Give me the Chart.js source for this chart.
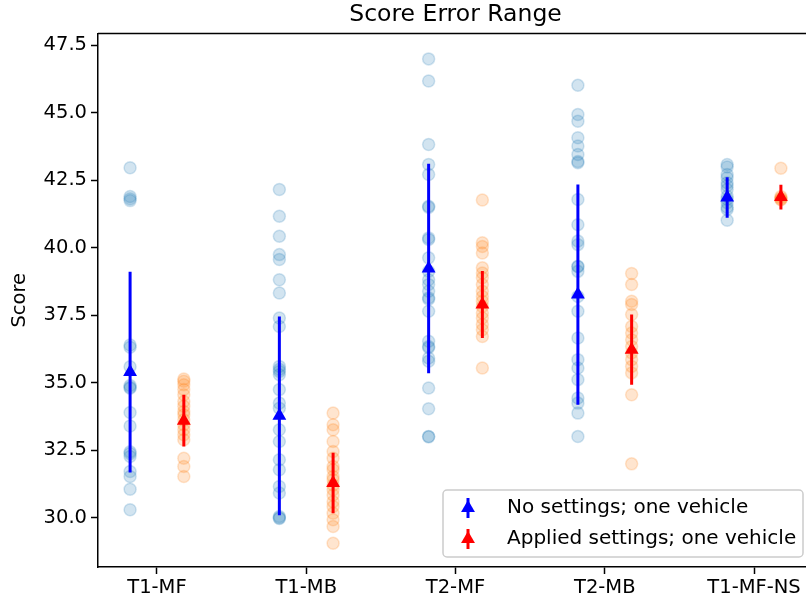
<!DOCTYPE html>
<html>
<head>
<meta charset="utf-8">
<script src="https://cdn.jsdelivr.net/npm/chart.js@4.4.1/dist/chart.umd.min.js"></script>
<style>
html, body { margin: 0; padding: 0; background: #fff; overflow: hidden; }
#wrap { width: 806px; height: 607px; overflow: hidden; }
canvas { display: block; }
</style>
</head>
<body>
<div id="wrap"><canvas id="myChart" width="822" height="607" style="width:822px;height:607px"></canvas></div>
<script>
// categories on the x axis
const categories = ['T1-MF', 'T1-MB', 'T2-MF', 'T2-MB', 'T1-MF-NS'];
const seriesNames = ['No settings; one vehicle', 'Applied settings; one vehicle'];
const yTicks = [30.0, 32.5, 35.0, 37.5, 40.0, 42.5, 45.0, 47.5];

// raw scores, one list per category
const noSettingsScores = [
    [42.97, 41.9, 41.82, 41.75, 36.4, 36.32, 35.6, 34.9, 34.84, 34.8, 33.9, 33.4, 32.45, 32.38, 32.27, 31.72, 31.53, 31.06, 30.3],
    [42.16, 41.17, 40.43, 39.75, 39.57, 38.82, 38.33, 37.4, 37.09, 35.61, 35.5, 35.42, 35.3, 34.75, 34.25, 34.06, 33.26, 32.83, 32.15, 31.78, 31.16, 30.92, 30.05, 30.0, 29.98],
    [47.0, 46.18, 43.83, 43.09, 42.72, 41.54, 41.5, 40.37, 40.31, 39.63, 39.13, 38.82, 38.64, 38.39, 38.15, 38.1, 37.65, 36.54, 36.35, 36.3, 35.92, 35.8, 34.81, 34.04, 33.01, 33.0],
    [46.02, 44.94, 44.69, 44.08, 43.77, 43.46, 43.2, 43.15, 41.79, 40.86, 40.25, 40.12, 39.32, 39.3, 39.13, 38.2, 37.65, 36.66, 35.86, 35.55, 35.12, 34.44, 34.25, 33.88, 33.01],
    [43.09, 43.0, 42.72, 42.6, 42.41, 42.3, 42.16, 41.91, 41.8, 41.67, 41.5, 41.42, 41.02]
];
const appliedScores = [
    [35.14, 35.06, 34.93, 34.75, 34.56, 34.31, 34.13, 33.94, 33.82, 33.63, 33.45, 33.26, 33.08, 32.89, 32.21, 31.9, 31.53],
    [33.88, 33.45, 33.26, 32.83, 32.46, 32.21, 31.9, 31.78, 31.53, 31.41, 31.22, 31.04, 30.85, 30.6, 30.42, 30.17, 29.93, 29.68, 29.06],
    [41.77, 40.19, 40.05, 39.81, 39.26, 39.07, 38.89, 38.64, 38.39, 38.2, 38.02, 37.83, 37.59, 37.4, 37.16, 36.97, 36.72, 35.55],
    [39.05, 38.64, 38.02, 37.9, 37.53, 37.09, 36.85, 36.6, 36.35, 36.11, 35.86, 35.61, 35.37, 34.56, 32.0],
    [42.95, 41.9, 41.85, 41.8, 41.78]
];

// means and error ranges
const noSettingsMean = [35.4, 33.78, 39.24, 38.27, 41.87];
const noSettingsErr = [3.72, 3.68, 3.88, 4.08, 0.75];
const appliedMean = [33.6, 31.29, 37.9, 36.23, 41.88];
const appliedErr = [0.96, 1.12, 1.24, 1.3, 0.46];

const shift = 0.18; // side offset of each group around the category tick
const fontFamily = '"DejaVu Sans", sans-serif';

Chart.defaults.font.family = fontFamily;
Chart.defaults.color = '#000';

function scatterPoints(scores, dx) {
    let pts = [];
    scores.forEach(function(list, i) {
        list.forEach(function(v) { pts.push({x: i + dx, y: v}); });
    });
    return pts;
}

function meanPoints(means, dx) {
    return means.map(function(m, i) { return {x: i + dx, y: m}; });
}

// vertical segments separated by gaps
function errorSegments(means, errs, dx) {
    let pts = [];
    means.forEach(function(m, i) {
        pts.push({x: i + dx, y: m - errs[i]});
        pts.push({x: i + dx, y: m + errs[i]});
        pts.push({x: i + dx, y: null});
    });
    return pts;
}

const legendEntries = [
    {label: seriesNames[0], color: '#0000ff'},
    {label: seriesNames[1], color: '#ff0000'}
];

// top / right spines like matplotlib
const framePlugin = {
    id: 'frame',
    afterDatasetsDraw(chart) {
        const {ctx, chartArea: a} = chart;
        ctx.save();
        ctx.strokeStyle = '#000';
        ctx.lineWidth = 1.5;
        ctx.beginPath();
        ctx.moveTo(a.left, a.top);
        ctx.lineTo(a.right, a.top);
        ctx.lineTo(a.right, a.bottom);
        ctx.stroke();
        ctx.restore();
    }
};

// legend box in the lower right corner of the plot
const boxLegend = {
    id: 'boxLegend',
    afterDraw(chart) {
        const {ctx, chartArea: a} = chart;
        const w = 360, h = 67;
        const x0 = a.right - 10 - w, y0 = a.bottom - 10 - h;
        ctx.save();
        ctx.fillStyle = 'rgba(255,255,255,0.8)';
        ctx.strokeStyle = '#cccccc';
        ctx.lineWidth = 1.5;
        ctx.beginPath();
        ctx.roundRect(x0, y0, w, h, 4);
        ctx.fill();
        ctx.stroke();
        ctx.font = '20px ' + fontFamily;
        ctx.textBaseline = 'middle';
        ctx.textAlign = 'left';
        legendEntries.forEach(function(e, k) {
            const y = y0 + 18 + k * 31;
            const mx = x0 + 25;
            ctx.strokeStyle = e.color;
            ctx.fillStyle = e.color;
            ctx.lineWidth = 3;
            ctx.beginPath();
            ctx.moveTo(mx, y - 10);
            ctx.lineTo(mx, y + 10);
            ctx.stroke();
            ctx.beginPath();
            ctx.moveTo(mx, y - 8);
            ctx.lineTo(mx - 6.93, y + 4);
            ctx.lineTo(mx + 6.93, y + 4);
            ctx.closePath();
            ctx.fill();
            ctx.fillStyle = '#000';
            ctx.fillText(e.label, x0 + 64, y);
        });
        ctx.restore();
    }
};

const blueDots = 'rgba(31,119,180,0.2)';
const orangeDots = 'rgba(255,127,14,0.2)';

const chart = new Chart(document.getElementById('myChart'), {
    type: 'scatter',
    data: {
        datasets: [
            {label: seriesNames[0], data: meanPoints(noSettingsMean, -shift), pointStyle: 'triangle', pointRadius: 8,
             backgroundColor: '#0000ff', borderColor: '#0000ff', borderWidth: 0, order: 0},
            {label: seriesNames[1], data: meanPoints(appliedMean, shift), pointStyle: 'triangle', pointRadius: 8,
             backgroundColor: '#ff0000', borderColor: '#ff0000', borderWidth: 0, order: 0},
            {label: 'err0', data: errorSegments(noSettingsMean, noSettingsErr, -shift), showLine: true, spanGaps: false,
             pointRadius: 0, borderColor: '#0000ff', borderWidth: 3, order: 1},
            {label: 'err1', data: errorSegments(appliedMean, appliedErr, shift), showLine: true, spanGaps: false,
             pointRadius: 0, borderColor: '#ff0000', borderWidth: 3, order: 1},
            {label: 'pts0', data: scatterPoints(noSettingsScores, -shift), pointRadius: 6, borderWidth: 1.5,
             backgroundColor: blueDots, borderColor: blueDots, order: 2},
            {label: 'pts1', data: scatterPoints(appliedScores, shift), pointRadius: 6, borderWidth: 1.5,
             backgroundColor: orangeDots, borderColor: orangeDots, order: 2}
        ]
    },
    options: {
        responsive: false,
        animation: false,
        devicePixelRatio: 1,
        layout: {padding: {left: 0, right: 9, top: 0, bottom: 0}},
        plugins: {
            legend: {display: false},
            tooltip: {enabled: false},
            title: {
                display: true,
                fullSize: false,
                text: 'Score Error Range',
                color: '#000',
                font: {size: 23.5, weight: 'normal', lineHeight: 1},
                padding: {top: 3, bottom: 7}
            }
        },
        scales: {
            x: {
                type: 'linear',
                min: -0.395,
                max: 4.395,
                afterFit: function(s) { s.height = 40; },
                afterBuildTicks: function(s) { s.ticks = categories.map(function(c, i) { return {value: i}; }); },
                ticks: {
                    font: {size: 19.5},
                    color: '#000',
                    padding: 2,
                    maxRotation: 0,
                    autoSkip: false,
                    callback: function(v) { return categories[v]; }
                },
                grid: {display: true, drawOnChartArea: false, drawTicks: true, tickLength: 7, tickWidth: 1.5, tickColor: '#000'},
                border: {display: true, color: '#000', width: 1.5}
            },
            y: {
                type: 'linear',
                min: 28.18,
                max: 47.94,
                afterFit: function(s) { s.width = 98; },
                afterBuildTicks: function(s) { s.ticks = yTicks.map(function(v) { return {value: v}; }); },
                ticks: {
                    font: {size: 19.5},
                    color: '#000',
                    padding: 4,
                    autoSkip: false,
                    callback: function(v) { return Number(v).toFixed(1); }
                },
                title: {display: true, text: 'Score', color: '#000', font: {size: 19.5}, padding: {top: 8, bottom: 0}},
                grid: {display: true, drawOnChartArea: false, drawTicks: true, tickLength: 7, tickWidth: 1.5, tickColor: '#000'},
                border: {display: true, color: '#000', width: 1.5}
            }
        }
    },
    plugins: [framePlugin, boxLegend]
});
</script>
</body>
</html>
